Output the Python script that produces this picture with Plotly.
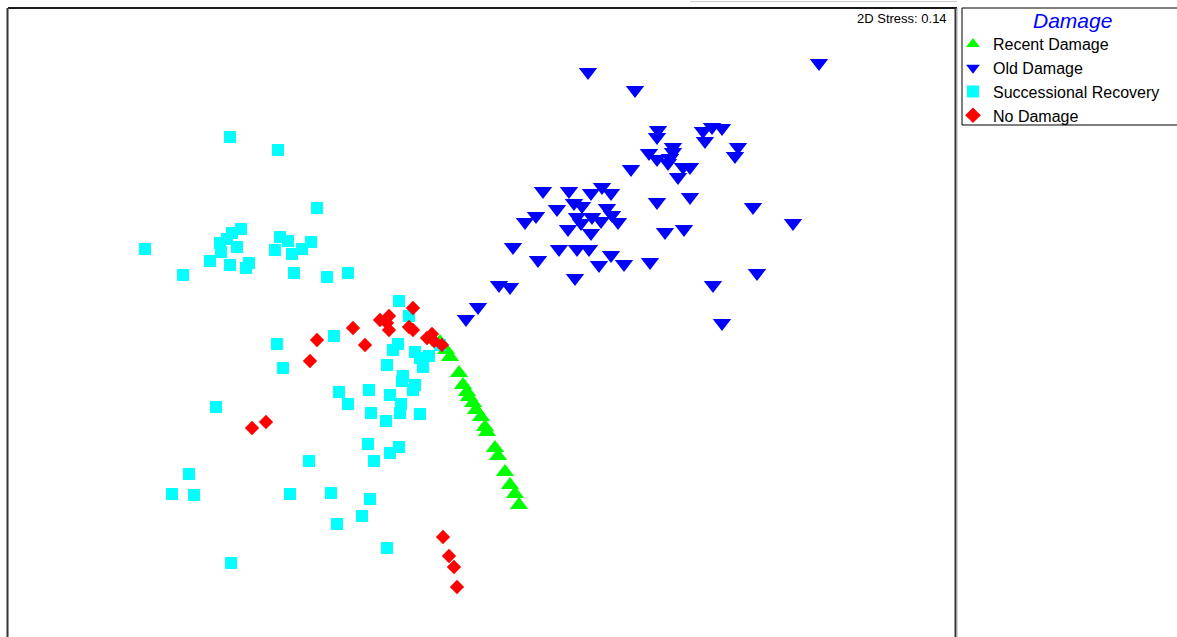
import plotly.graph_objects as go

W, H = 1177, 637

# NMDS ordination scores (plot units) per damage class
recent_x = [440, 446, 450, 459, 463, 467, 469, 473, 476, 481, 485, 487, 495, 498, 505, 510, 515, 519]
recent_y = [342, 350, 357, 373, 385, 392, 397, 403, 410, 417, 427, 432, 448, 456, 472, 485, 494, 505]

old_x = [588, 819, 635,
         658, 657, 703, 712, 722, 705, 738, 735,
         649, 657, 673, 673, 670, 668, 683, 690, 678, 631,
         657, 690, 753, 793, 665, 684, 650, 624, 713, 757, 722,
         543, 569, 591, 602, 611, 557, 536, 525, 574, 582, 577, 581, 592, 607, 612, 601, 618, 568, 591,
         513, 559, 577, 589, 538, 611, 599, 575, 499, 510, 478, 466]
old_y = [72, 63, 90,
         130, 137, 131, 127, 128, 141, 147, 156,
         153, 159, 147, 152, 158, 163, 167, 167, 177, 169,
         202, 197, 207, 223, 232, 229, 262, 264, 285, 273, 323,
         191, 191, 193, 187, 193, 209, 216, 222, 203, 206, 217, 223, 217, 208, 215, 221, 222, 229, 233,
         247, 249, 249, 249, 260, 255, 265, 278, 285, 287, 307, 319]

succ_x = [230, 278, 317,
          241, 232, 227, 220, 221, 237, 210, 230, 249, 246,
          145, 183, 280, 288, 275, 292, 311, 302, 294, 327, 348,
          399, 409, 334, 277, 283, 398, 393, 415, 420, 429, 440, 423, 387, 403, 402, 415, 413,
          339, 348, 369, 390, 401, 400, 371, 386, 420,
          368, 399, 390, 374, 309, 216, 189, 172, 194, 290, 331, 370, 362, 337, 387, 231]
succ_y = [137, 150, 208,
          229, 233, 239, 243, 252, 247, 261, 265, 263, 268,
          249, 275, 237, 241, 250, 254, 242, 249, 273, 277, 273,
          301, 316, 336, 344, 368, 344, 350, 352, 358, 356, 345, 367, 365, 376, 381, 385, 390,
          392, 404, 390, 395, 404, 413, 413, 421, 414,
          444, 447, 453, 461, 461, 407, 474, 494, 495, 494, 493, 499, 516, 524, 548, 563]

none_x = [413, 389, 380, 387, 389, 353, 317, 365, 310, 409, 413, 427, 432, 434, 442, 252, 266, 443, 449, 454, 457]
none_y = [308, 316, 320, 323, 330, 328, 340, 345, 361, 327, 330, 338, 334, 341, 345, 428, 422, 537, 556, 567, 587]

groups = [
    ("Recent Damage", recent_x, recent_y, "triangle-up", "#00ff00", 16),
    ("Old Damage", old_x, old_y, "triangle-down", "#0000ff", 16),
    ("Successional Recovery", succ_x, succ_y, "square", "#00ffff", 12),
    ("No Damage", none_x, none_y, "diamond", "#ff0000", 11),
]

fig = go.Figure()
for name, xs, ys, sym, col, sz in groups:
    fig.add_trace(go.Scatter(
        x=xs, y=ys, mode="markers", name=name,
        marker=dict(symbol=sym, color=col, size=sz, line=dict(width=0)),
    ))

X0, X1, Y0 = 8, 957, 8
fig.update_xaxes(range=[X0, X1], domain=[X0 / W, X1 / W], visible=False)
fig.update_yaxes(range=[H, Y0], domain=[0, 1 - Y0 / H], visible=False)


def px_line(x0, y0, x1, y1, color, width):
    fig.add_shape(type="line", xref="paper", yref="paper",
                  x0=x0 / W, x1=x1 / W, y0=1 - y0 / H, y1=1 - y1 / H,
                  line=dict(color=color, width=width))


# plot frame (open at the bottom edge of the page)
px_line(X0, Y0, X1, Y0, "#1a1a1a", 2)
px_line(X0 - 0.5, Y0, X0 - 0.5, H + 5, "#333333", 2)
px_line(X1 - 1.5, Y0, X1 - 1.5, H + 5, "#333333", 2)
px_line(X1, Y0, X1, H + 5, "#aaaaaa", 1)
px_line(690, 1.5, X1, 1.5, "#cccccc", 1)

# legend frame
LX0, LY0, LY1 = 962, 8, 125
px_line(LX0, LY0, W + 5, LY0, "#000000", 1)
px_line(LX0, LY1, W + 5, LY1, "#000000", 1)
px_line(LX0, LY0, LX0, LY1, "#000000", 1)
fig.add_annotation(text="<i>Damage</i>", xref="paper", yref="paper",
                   x=1072 / W, y=1 - 21 / H, xanchor="center", yanchor="middle",
                   showarrow=False, font=dict(family="Liberation Sans, Arial", size=21, color="#0000ff"))

fig.add_annotation(text="2D Stress: 0.14", xref="paper", yref="paper",
                   x=949 / W, y=1 - 19 / H, xanchor="right", yanchor="middle",
                   showarrow=False, font=dict(family="Liberation Sans, Arial", size=13, color="#000000"))

fig.update_layout(
    width=W, height=H,
    margin=dict(l=0, r=0, t=0, b=0),
    paper_bgcolor="white", plot_bgcolor="white",
    font=dict(family="Liberation Sans, Arial", color="#000000"),
    legend=dict(
        x=953 / W, y=1 - 27 / H, xanchor="left", yanchor="top",
        bgcolor="rgba(0,0,0,0)", borderwidth=0,
        font=dict(size=16, color="#000000"),
        itemsizing="constant",
    ),
)

fig.write_html("out.html")
